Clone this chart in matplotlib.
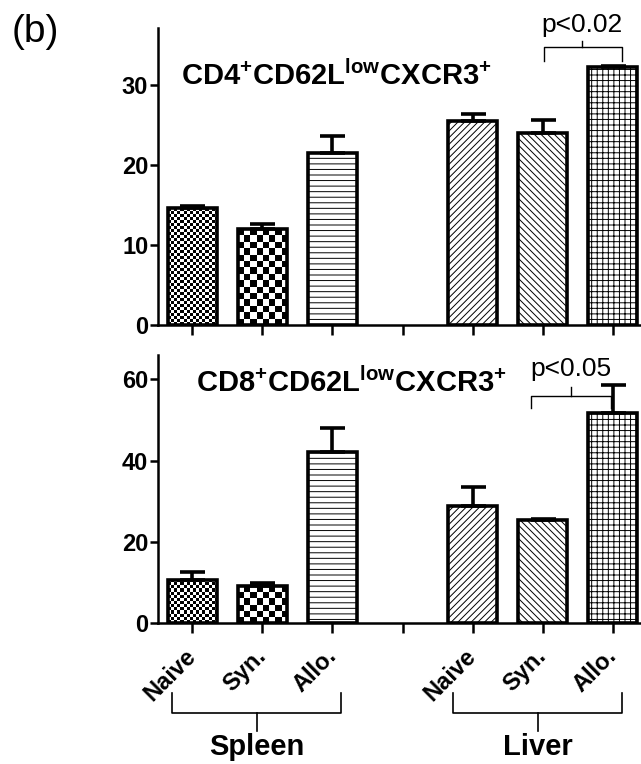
import numpy as np
import matplotlib
matplotlib.use("Agg")
import matplotlib.pyplot as plt
from matplotlib.transforms import ScaledTranslation

plt.rcParams["font.family"] = ["Liberation Sans", "DejaVu Sans"]
plt.rcParams["mathtext.fontset"] = "custom"
plt.rcParams["mathtext.rm"] = "Liberation Sans:bold"
plt.rcParams["mathtext.bf"] = "Liberation Sans:bold"
plt.rcParams["mathtext.default"] = "bf"
plt.rcParams["hatch.linewidth"] = 0.7

# ---- data ----
groups = ["Spleen", "Liver"]
conditions = ["Naive", "Syn.", "Allo."]
positions = [0, 1, 2, 4, 5, 6]          # slot 3 is the gap between organs
tick_slots = [0, 1, 2, 3, 4, 5, 6]

cd4_mean = [14.6, 12.0, 21.6, 25.5, 24.1, 32.3]
cd4_err = [0.3, 0.7, 2.1, 0.9, 1.6, 0.2]
cd8_mean = [10.6, 9.0, 42.2, 28.8, 25.3, 51.8]
cd8_err = [2.0, 0.8, 5.9, 4.6, 0.4, 6.8]

cd4_title = r"CD4$^{+}$CD62L$^{low}$CXCR3$^{+}$"
cd8_title = r"CD8$^{+}$CD62L$^{low}$CXCR3$^{+}$"

# bar fills: checker cell size (px) or a hatch string
fills = [("checker", 3), ("checker", 6.5), ("hatch", "---"),
         ("hatch", "/////"), ("hatch", "\\\\\\\\\\"), ("hatch", "+++")]

W, H = 641, 764
fig = plt.figure(figsize=(W / 100, H / 100), dpi=100)
ax_top = fig.add_axes([158 / W, 1 - 325 / H, (W - 158) / W, (325 - 28) / H])
ax_bot = fig.add_axes([158 / W, 1 - 623 / H, (W - 158) / W, (623 - 355) / H])


def checker_fill(ax, bar, cell):
    x0, y0 = bar.get_x(), bar.get_y()
    x1, y1 = x0 + bar.get_width(), y0 + bar.get_height()
    p0 = ax.transData.transform((x0, y0))
    p1 = ax.transData.transform((x1, y1))
    nx = max(1, int(round(abs(p1[0] - p0[0]) / cell)))
    ny = max(1, int(round(abs(p1[1] - p0[1]) / cell)))
    board = (np.add.outer(np.arange(ny), np.arange(nx)) % 2).astype(float)
    im = ax.imshow(board, cmap="gray", vmin=0, vmax=1, interpolation="nearest",
                   extent=(x0, x1, y0, y1), aspect="auto", origin="lower",
                   zorder=2)
    im.set_clip_path(bar)


def panel(ax, means, errs, ymax, yticks, title, title_xy):
    ax.set_xlim(-0.486, 6.4)
    ax.set_ylim(0, ymax)
    bars = ax.bar(positions, means, width=0.7, facecolor="white",
                  edgecolor="black", linewidth=2.6, zorder=3)
    for b, (kind, val) in zip(bars, fills):
        if kind == "hatch":
            b.set_hatch(val)
        else:
            b.set_facecolor("none")
    ax.errorbar(positions, means, yerr=[np.zeros(len(errs)), errs], fmt="none",
                ecolor="black", elinewidth=2.6, capsize=9, capthick=2.6,
                zorder=4)
    for b, (kind, val) in zip(bars, fills):
        if kind == "checker":
            checker_fill(ax, b, val)
    for s in ("top", "right"):
        ax.spines[s].set_visible(False)
    for s in ("left", "bottom"):
        ax.spines[s].set_linewidth(1.8)
    ax.set_yticks(yticks)
    ax.set_xticks(tick_slots)
    ax.tick_params(axis="y", length=6, width=1.8, pad=1, labelsize=17)
    ax.tick_params(axis="x", length=7, width=1.8)
    for lab in ax.get_yticklabels():
        lab.set_fontweight("bold")
    ax.text(title_xy[0], title_xy[1], title, transform=ax.transAxes,
            ha="center", va="center", fontsize=21, fontweight="bold")


def bracket(ax, x0, x1, xm, y, drop, peak, label, label_y):
    ax.plot([x0, x0, x1, x1], [y - drop, y, y, y - drop], color="black",
            lw=1.0, clip_on=False, zorder=5)
    ax.plot([xm, xm], [y, y + peak], color="black", lw=1.0, clip_on=False,
            zorder=5)
    ax.text(xm, label_y, label, ha="center", va="center", fontsize=19,
            clip_on=False)


panel(ax_top, cd4_mean, cd4_err, 37.2, [0, 10, 20, 30], cd4_title, (0.37, 0.84))
ax_top.set_xticklabels([])
bracket(ax_top, 5.02, 6.13, 5.56, 34.8, 1.7, 0.8, "p<0.02", 37.6)

panel(ax_bot, cd8_mean, cd8_err, 66, [0, 20, 40, 60], cd8_title, (0.40, 0.895))
labels = conditions + [""] + conditions
ax_bot.set_xticklabels(labels, rotation=45, ha="right", va="top",
                       rotation_mode="anchor", fontsize=17, fontweight="bold")
ax_bot.tick_params(axis="x", pad=4)
shift = ScaledTranslation(-8 / 100, -6 / 100, fig.dpi_scale_trans)
for lab in ax_bot.get_xticklabels():
    lab.set_fontweight("bold")
    lab.set_transform(lab.get_transform() + shift)
bracket(ax_bot, 4.83, 5.97, 5.40, 55.8, 2.8, 2.2, "p<0.05", 62.6)

# group braces below the category labels (figure pixel geometry)
for name, xa, xb in [(groups[0], 0, 2), (groups[1], 4, 6)]:
    pa = ax_bot.transData.transform((xa - 0.28, 0))[0] / W
    pb = ax_bot.transData.transform((xb + 0.13, 0))[0] / W
    pm = (pa + pb) / 2
    ytop, ymid, ystem = 1 - 693 / H, 1 - 713 / H, 1 - 731 / H
    fig.add_artist(plt.Line2D([pa, pa, pb, pb], [ytop, ymid, ymid, ytop],
                              color="black", lw=1.2))
    fig.add_artist(plt.Line2D([pm, pm], [ymid, ystem], color="black", lw=1.2))
    fig.text(pm, 1 - 747 / H, name, ha="center", va="center", fontsize=21,
             fontweight="bold")

fig.text(12 / W, 1 - 32 / H, "(b)", ha="left", va="center", fontsize=28)

fig.savefig("out.png", dpi=100)
